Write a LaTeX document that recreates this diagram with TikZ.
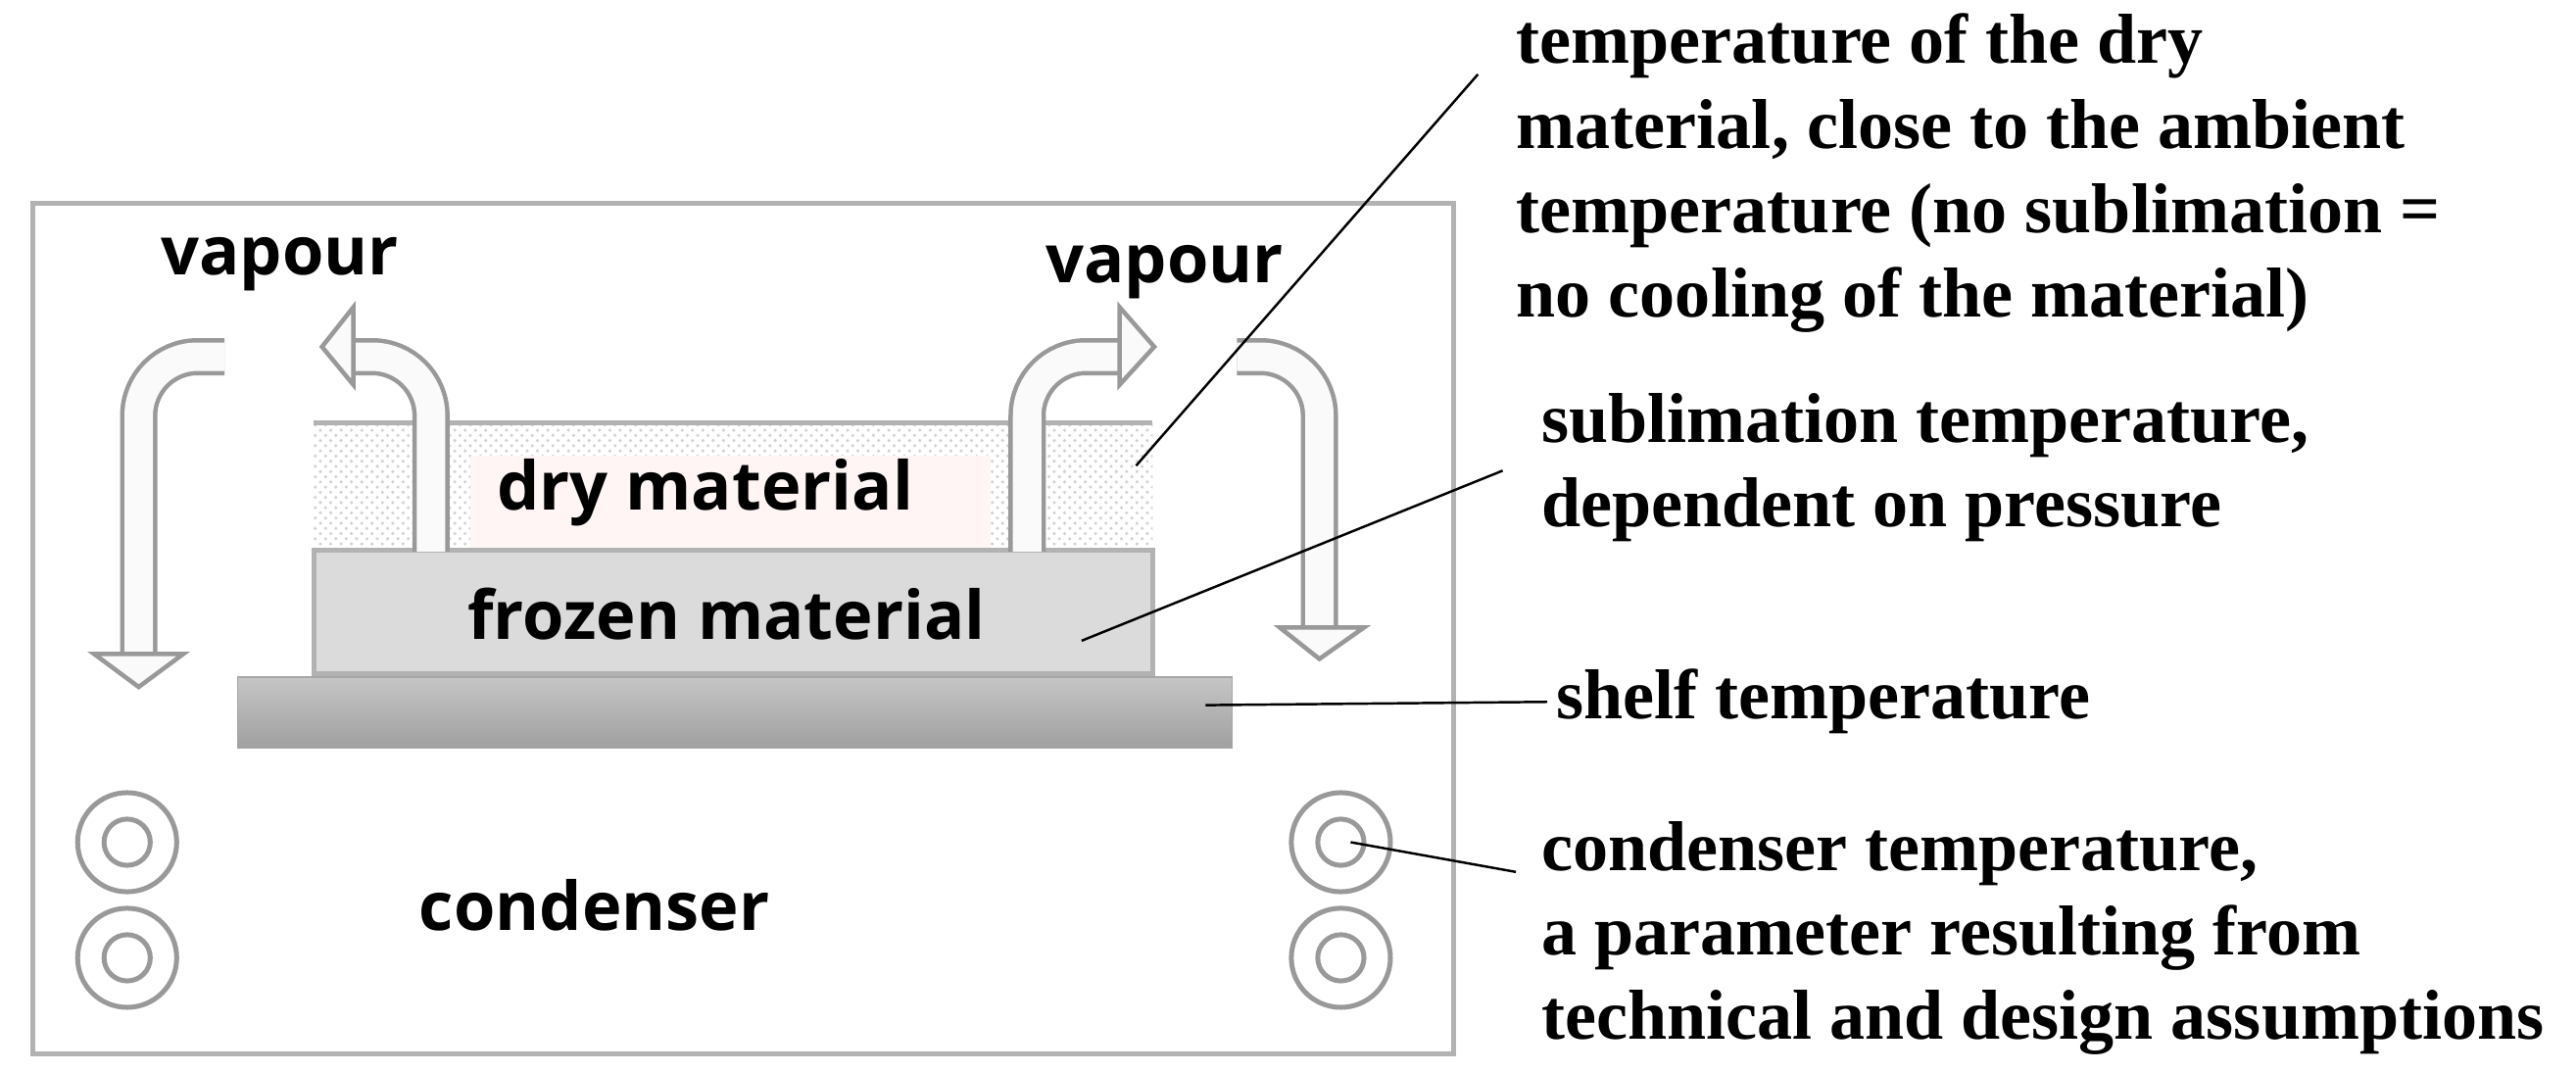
\documentclass[tikz,border=0pt]{standalone}
\usepackage{fontspec}
\setmainfont{Liberation Serif}
\setsansfont{Open Sans}
\usetikzlibrary{patterns}
\begin{document}
\begin{tikzpicture}[x=0.01685cm,y=-0.01685cm,
  lbl/.style={font=\fontsize{20.5}{24.5}\selectfont\bfseries, anchor=west, align=left, inner sep=0pt},
  inl/.style={font=\sffamily\bfseries\fontsize{19.5}{23}\selectfont, inner sep=0pt},
  stem/.style={draw=gray!80, line width=0.045cm, double=gray!4, double distance=0.29cm, rounded corners=0.6cm},
  head/.style={draw=gray!80, fill=gray!4, line width=0.045cm, line join=miter},
  lead/.style={draw=black, line width=0.7pt},
  ring/.style={draw=gray!80, line width=0.05cm}]
\useasboundingbox (0,0) rectangle (1560,648.6);
% outer box
\draw[gray!60, line width=0.05cm] (20,123) rectangle (880,638);
% materials
\fill[white] (190,256) rectangle (698,333);
\fill[pattern=crosshatch dots, pattern color=gray!35] (190,256) rectangle (698,333);
\fill[red!4] (285,276) rectangle (600,332);
\draw[gray!60, line width=0.05cm] (190,256) -- (698,256);
\node[inl] (dry) at (427,298) {dry material};
\draw[gray!60, fill=gray!28, line width=0.05cm] (190,333) rectangle (698,408);
\node[inl] (frozen) at (440,372) {frozen material};
\shade[top color=gray!45, bottom color=gray!75, draw=gray!70] (144,410) rectangle (746,453);
\coordinate (shelfpt) at (730,427);
\coordinate (frozpt) at (655,388);
\coordinate (drypt) at (688,282);
% arrows
\draw[stem] (136,216) -- (84,216) -- (84,397);
\draw[head] (57,396) -- (111,396) -- (84,416) -- cycle;
\draw[stem] (261,334) -- (261,216) -- (213,216);
\draw[head] (214,186) -- (214,233) -- (195,210) -- cycle;
\draw[stem] (622,334) -- (622,216) -- (679,216);
\draw[head] (678,186) -- (678,233) -- (699,210) -- cycle;
\draw[stem] (749,216) -- (799,216) -- (799,381);
\draw[head] (775,380) -- (826,380) -- (799,399) -- cycle;
\node[inl, anchor=west] (v1) at (97,160) {vapour};
\node[inl, anchor=west] (v2) at (633,165) {vapour};
% condenser coils
\foreach \n/\x/\y in {a/77/510,b/77/580,c/812/510,d/812/580}{
  \draw[ring] (\x,\y) circle (30);
  \draw[ring] (\x,\y) circle (14);
  \coordinate (coil\n) at (\x,\y);
}
\node[inl] (cond) at (360,548) {condenser};
% labels
\node[lbl, anchor=north west] (t1) at (918,8) {temperature of the dry\\material, close to the ambient\\temperature (no sublimation =\\no cooling of the material)};
\node[lbl, anchor=north west] (t2) at (933,238) {sublimation temperature,\\dependent on pressure};
\node[lbl] (t3) at (942,425) {shelf temperature};
\node[lbl, anchor=north west] (t4) at (933,497) {condenser temperature,\\a parameter resulting from\\technical and design assumptions};
\coordinate (a1) at (895,45);
\coordinate (a2) at (910,285);
\coordinate (a4) at (918,528);
\draw[lead] (a1) -- (drypt);
\draw[lead] (a2) -- (frozpt);
\draw[lead] (t3.west) ++(-5,0) coordinate (a3) -- (shelfpt);
\draw[lead] (a4) -- ([xshift=0.1cm]coilc);
\end{tikzpicture}
\end{document}
